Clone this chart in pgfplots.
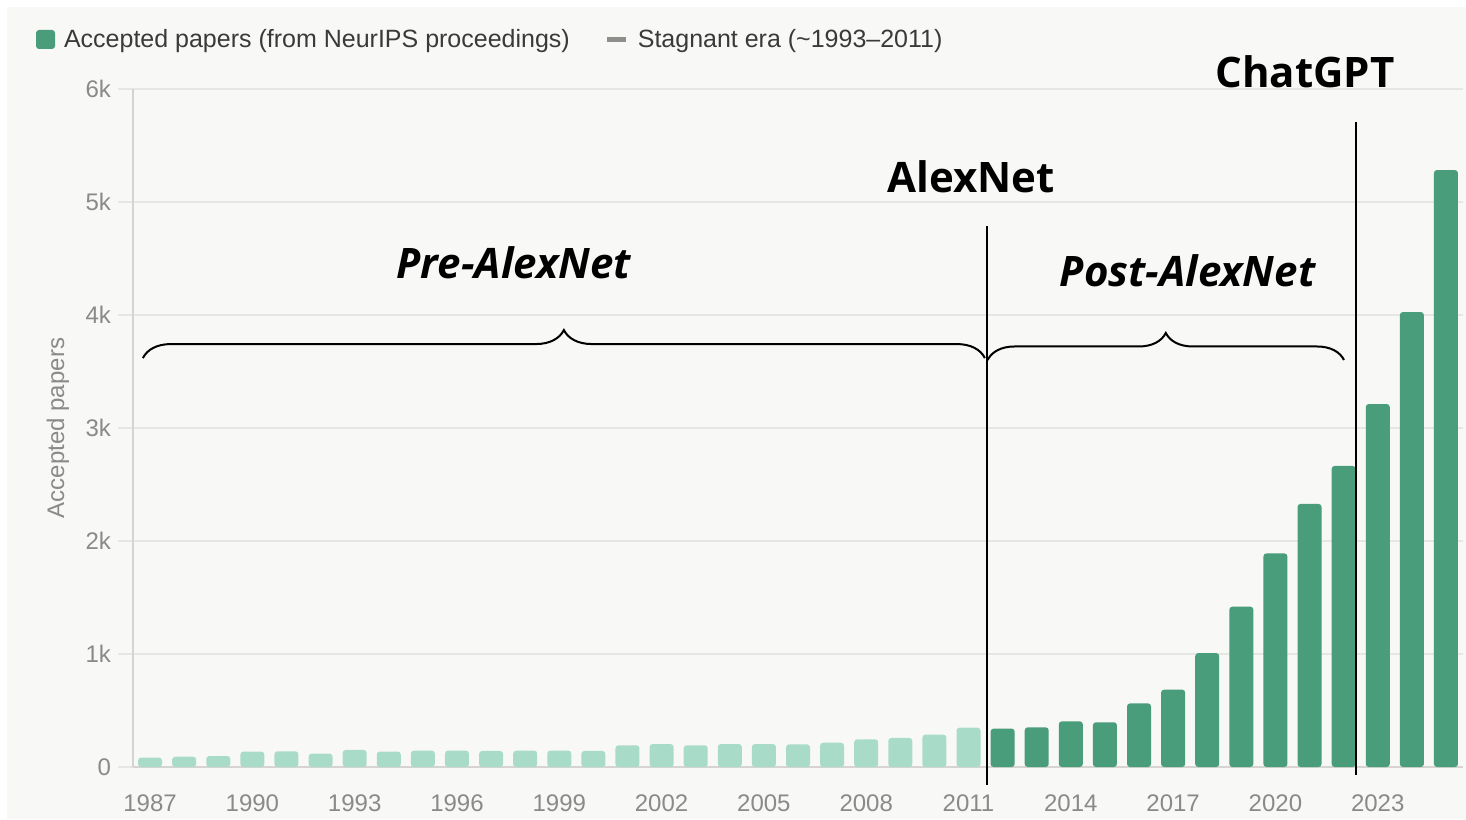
\documentclass[border=0pt]{standalone}
\usepackage{pgfplots}
\pgfplotsset{compat=1.18}
\usepackage{fontspec}
\setmainfont{Liberation Sans}
\newfontfamily\annot{Open Sans}
\usetikzlibrary{decorations.pathreplacing}
\definecolor{bg}{HTML}{F8F8F6}
\definecolor{lightg}{HTML}{A9DCC8}
\definecolor{darkg}{HTML}{4A9D7A}
\definecolor{gridc}{HTML}{E6E6E4}
\definecolor{axisc}{HTML}{D6D4D2}
\definecolor{tickc}{HTML}{8A8A88}
\definecolor{legc}{HTML}{3A3A3A}
\definecolor{stagc}{HTML}{8E8E8A}
\begin{document}
\begin{tikzpicture}
\fill[white] (-66.5pt,-26pt) rectangle (666.5pt,383.5pt);
\fill[bg] (-63pt,-26pt) rectangle (666.5pt,380pt);
\begin{axis}[
  scale only axis, width=665pt, height=339pt,
  xmin=1986.5, xmax=2025.5, ymin=0, ymax=6000,
  clip=false,
  axis x line*=bottom, axis y line*=left,
  axis line style={draw=axisc, line width=0.9pt, -},
  xtick={1987,1990,1993,1996,1999,2002,2005,2008,2011,2014,2017,2020,2023},
  xticklabels={1987,1990,1993,1996,1999,2002,2005,2008,2011,2014,2017,2020,2023},
  ytick={0,1000,2000,3000,4000,5000,6000},
  yticklabels={0,1k,2k,3k,4k,5k,6k},
  tick align=outside,
  major tick length=7.5pt,
  xtick style={draw=none},
  ytick style={draw=gridc, line width=0.8pt},
  ymajorgrids, grid style={draw=gridc, line width=0.8pt},
  ticklabel style={font=\fontsize{12}{14}\selectfont, text=tickc},
  xticklabel style={yshift=-3pt},
  /pgf/number format/assume math mode=true,
  ylabel={Accepted papers},
  every axis y label/.style={at={(axis description cs:-0.0564,0.5)}, rotate=90, anchor=center,
    font=\fontsize{12}{14}\selectfont, text=tickc},
  legend style={at={(axis description cs:-0.0729,1.0945)}, anchor=north west,
    draw=none, fill=none, inner sep=0pt, outer sep=0pt,
    font=\fontsize{12.5}{14}\selectfont, text=legc,
    nodes={inner xsep=4.5pt},
    /tikz/every even column/.append style={column sep=13pt}},
  legend columns=2, legend cell align=left,
]
\addplot[ybar, bar width=12pt, bar shift=0pt, fill=darkg, draw=none, rounded corners=1.5pt,
  legend image code/.code={\fill[darkg, rounded corners=1.5pt] (0pt,-4.75pt) rectangle (9.5pt,4.75pt);}]
  coordinates {(2012,340) (2013,351) (2014,404) (2015,396) (2016,563) (2017,685)
   (2018,1008) (2019,1419) (2020,1890) (2021,2328) (2022,2664) (2023,3212) (2024,4026) (2025,5283)};
\addlegendentry{Accepted papers (from NeurIPS proceedings)}
\addplot[ybar, bar width=12pt, bar shift=0pt, fill=lightg, draw=none, rounded corners=1.5pt, forget plot]
  coordinates {(1987,83) (1988,91) (1989,97) (1990,136) (1991,139) (1992,118) (1993,151)
   (1994,136) (1995,145) (1996,145) (1997,142) (1998,145) (1999,145) (2000,142)
   (2001,192) (2002,203) (2003,192) (2004,203) (2005,203) (2006,200) (2007,215)
   (2008,245) (2009,257) (2010,286) (2011,348)};
\addlegendimage{legend image code/.code={\draw[stagc, line width=2.5pt] (0pt,0pt) -- (9.5pt,0pt);}}
\addlegendentry{Stagnant era (\string~1993--2011)}
\draw[black, line width=1pt] (axis cs:2011.53,-159) -- (axis cs:2011.53,4788);
\draw[black, line width=1pt] (axis cs:2022.37,-71) -- (axis cs:2022.37,5708);
\draw[decorate, decoration={brace, amplitude=14pt}, line width=1pt] (axis cs:1986.79,3619) -- (axis cs:2011.48,3619);
\draw[decorate, decoration={brace, amplitude=13.5pt}, line width=1pt] (axis cs:2011.56,3602) -- (axis cs:2022.01,3602);
\node[anchor=base, font=\annot\bfseries\itshape\fontsize{21}{25}\selectfont] at (axis cs:1997.66,4327) {Pre-AlexNet};
\node[anchor=base, font=\annot\bfseries\fontsize{21}{25}\selectfont] at (axis cs:2011.07,5088) {AlexNet};
\node[anchor=base, font=\annot\bfseries\itshape\fontsize{21}{25}\selectfont] at (axis cs:2017.42,4250) {Post-AlexNet};
\node[anchor=base, font=\annot\bfseries\fontsize{21}{25}\selectfont] at (axis cs:2020.87,6009) {ChatGPT};
\end{axis}
\end{tikzpicture}
\end{document}
